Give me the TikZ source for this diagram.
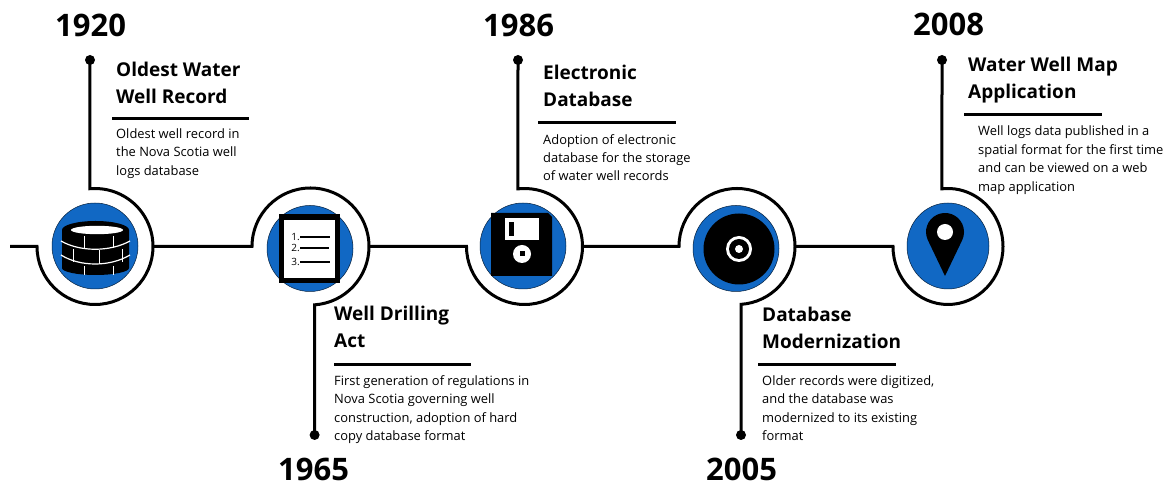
\documentclass[tikz,border=0pt]{standalone}
\usepackage{fontspec}
\setmainfont{Open Sans}
\usetikzlibrary{shapes.geometric}
\definecolor{hubblue}{HTML}{1168C4}
\tikzset{
  x=1pt,y=1pt,
  line/.style={draw=black,line width=3pt},
  rule/.style={draw=black,line width=3pt},
  hub/.style={circle,fill=hubblue,draw=black!70!hubblue,line width=0.5pt,minimum size=86pt,inner sep=0pt},
  narrowhub/.style={ellipse,fill=hubblue,draw=black!70!hubblue,line width=0.5pt,minimum width=82pt,minimum height=86pt,inner sep=0pt},
  enddot/.style={circle,fill=black,minimum size=10pt,inner sep=0pt},
  year/.style={anchor=base west,inner sep=0pt,font=\fontsize{31}{32}\selectfont\bfseries},
  headline/.style={anchor=north west,inner sep=0pt,align=left,font=\fontsize{19}{27}\selectfont\bfseries},
  body/.style={anchor=north west,inner sep=0pt,align=left,font=\fontsize{12.9}{18.4}\selectfont},
  numeral/.style={inner sep=0pt,font=\fontsize{10}{10}\selectfont}
}
\begin{document}
\begin{tikzpicture}
\useasboundingbox (0,0) rectangle (1168,484);
% hubs
\node[hub] (h1) at (95,238) {};
\node[hub] (h2) at (310,235.5) {};
\node[hub] (h3) at (523,238) {};
\node[hub] (h4) at (736,235.5) {};
\node[narrowhub] (h5) at (948,238) {};
% end points and ring crossings
\coordinate (start) at (10,237.5);
\node[enddot] (d1) at (90,424) {};
\node[enddot] (d2) at (314.6,49) {};
\node[enddot] (d3) at (518,424) {};
\node[enddot] (d4) at (741,49) {};
\node[enddot] (d5) at (942,424) {};
\coordinate (w1) at (37,237.5);   \coordinate (e1) at (153,237.5);
\coordinate (w2) at (252,237.5);  \coordinate (e2) at (369,237.5);
\coordinate (w3) at (466.5,237.5);\coordinate (e3) at (582.5,237.5);
\coordinate (w4) at (679,237.5);  \coordinate (e4) at (795,237.5);
\coordinate (w5) at (893,237.5);
% connectors
\draw[line] (start) -- (w1) arc[start angle=180,end angle=455,radius=58] -- (d1.center);
\draw[line] (e1) -- (w2) arc[start angle=180,end angle=-86,radius=58.5] -- (d2.center);
\draw[line] (e2) -- (w3) arc[start angle=180,end angle=456.5,radius=58] -- (d3.center);
\draw[line] (e3) -- (w4) arc[start angle=180,end angle=-86,radius=58] -- (d4.center);
\draw[line] (e4) -- (w5) arc[start angle=180,end angle=456.3,x radius=55,y radius=58] -- (d5.center);
% database icon
\fill[black] (62,254) arc[start angle=180,end angle=0,x radius=33.5,y radius=9]
  -- (129,216) arc[start angle=0,end angle=-180,x radius=33.5,y radius=7] -- cycle;
\fill[white] (97,254) ellipse[x radius=26,y radius=4.2];
\draw[white,line width=1.2pt] (61,243) .. controls (80,232) and (110,232) .. (130,243);
\draw[white,line width=1.2pt] (61,229) .. controls (80,217) and (110,217) .. (130,229);
\draw[white,line width=1pt] (84,248) -- (84,236) (113,248) -- (113,236)
  (73,235) -- (73,222) (99,234) -- (99,220) (122,235) -- (122,222)
  (84,218) -- (84,209) (113,218) -- (113,209);
% list icon
\draw[black,fill=white,line width=5.5pt] (281.7,203.5) rectangle (337.3,267.2);
\draw[black,line width=2.4pt] (300,247) -- (330,247) (300,236) -- (329,236) (300,222) -- (330,222);
\node[numeral,anchor=east] (n1) at (300,247) {1.};
\node[numeral,anchor=east] (n2) at (300,236) {2.};
\node[numeral,anchor=east] (n3) at (300,222) {3.};
% floppy icon
\fill[black] (491,208) -- (491,271) -- (548,271) -- (552,267) -- (552,208) -- cycle;
\fill[white] (505,244) rectangle (539,266);
\fill[black] (509,248) rectangle (514,262);
\fill[white] (522,230) circle[radius=9];
\fill[black] (519.5,227.5) rectangle (524.5,232.5);
% disc icon
\fill[black] (739,235) circle[radius=35.5];
\fill[white] (739,235) circle[radius=13];
\fill[black] (739,235) circle[radius=10];
\fill[white] (739,235) circle[radius=4];
% pin icon
\fill[black] (945,208) -- (927.9,243.8) arc[start angle=205.6,end angle=-25.6,radius=19] -- cycle;
\fill[white] (945,252) circle[radius=8];
% years
\node[year] (y1) at (55,447) {1920};
\node[year] (y2) at (278,3.3) {1965};
\node[year] (y3) at (483,447) {1986};
\node[year] (y4) at (706,3.3) {2005};
\node[year] (y5) at (913,448) {2008};
% headings
\node[headline] (t1) at (116,422.5) {Oldest Water\\Well Record};
\node[headline] (t2) at (334,178) {Well Drilling\\Act};
\node[headline] (t3) at (543,419) {Electronic\\Database};
\node[headline] (t4) at (762,177) {Database\\Modernization};
\node[headline] (t5) at (968,427) {Water Well Map\\Application};
% rules
\draw[rule] (112,365) -- (249,365);
\draw[rule] (334,119.5) -- (471,119.5);
\draw[rule] (538,361) -- (676,361);
\draw[rule] (758,119.5) -- (896,119.5);
\draw[rule] (964,369) -- (1102,369);
% descriptions
\node[body] (b1) at (116,355.5) {Oldest well record in\\the Nova Scotia well\\logs database};
\node[body] (b2) at (334,108.5) {First generation of regulations in\\Nova Scotia governing well\\construction, adoption of hard\\copy database format};
\node[body] (b3) at (543,350) {Adoption of electronic\\database for the storage\\of water well records};
\node[body] (b4) at (762,108.5) {Older records were digitized,\\and the database was\\modernized to its existing\\format};
\node[body] (b5) at (978,358) {Well logs data published in a\\spatial format for the first time\\and can be viewed on a web\\map application};
\end{tikzpicture}
\end{document}
